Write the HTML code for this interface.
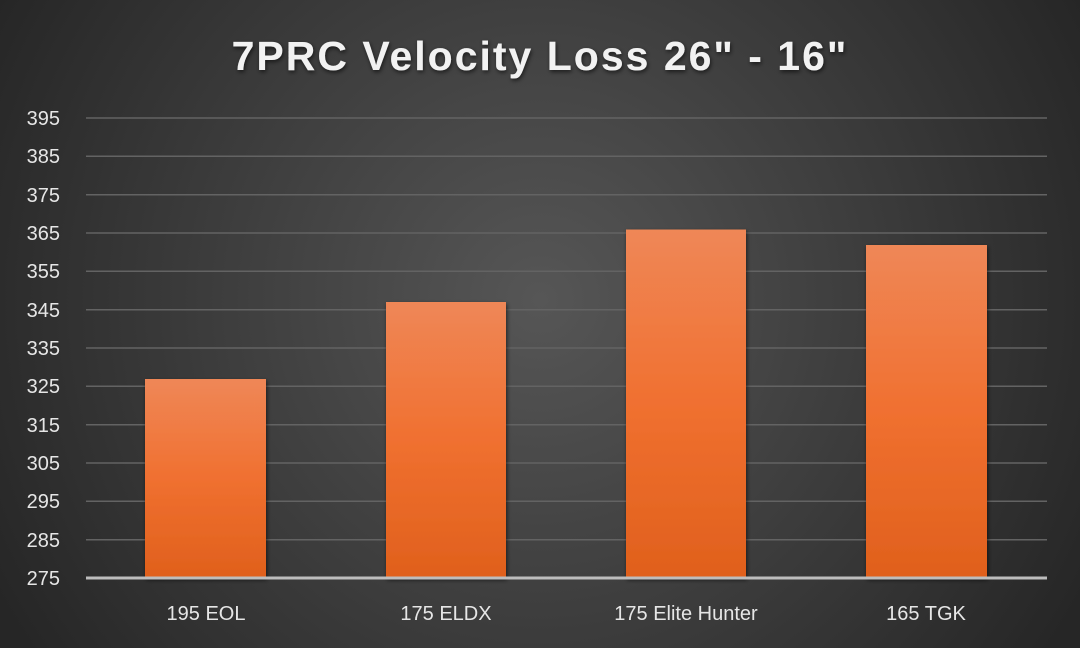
<!DOCTYPE html>
<html><head><style>
html,body{margin:0;padding:0;background:#2d2d2d}
svg{display:block}
text{font-family:"Liberation Sans",sans-serif}
</style></head><body>
<svg width="1080" height="648" viewBox="0 0 1080 648" xmlns="http://www.w3.org/2000/svg">
<defs>
<radialGradient id="bg" cx="540" cy="300" r="620" gradientUnits="userSpaceOnUse">
<stop offset="0" stop-color="#565656"/><stop offset="1" stop-color="#262626"/>
</radialGradient>
<linearGradient id="bar" x1="0" y1="0" x2="0" y2="1">
<stop offset="0" stop-color="#ef8757"/><stop offset="0.5" stop-color="#f07030"/><stop offset="1" stop-color="#e0601c"/>
</linearGradient>
<filter id="sh" x="-20%" y="-20%" width="140%" height="140%"><feDropShadow dx="1" dy="2" stdDeviation="2" flood-color="#000" flood-opacity="0.6"/></filter>
</defs>
<rect width="1080" height="648" fill="url(#bg)"/>
<text x="540" y="70" text-anchor="middle" font-size="41" font-weight="bold" fill="#f2f2f2" letter-spacing="2" filter="url(#sh)">7PRC Velocity Loss 26" - 16"</text>
<g stroke="#636363" stroke-width="1.5">
<line x1="86" x2="1047" y1="118" y2="118"/><line x1="86" x2="1047" y1="156.3" y2="156.3"/>
<line x1="86" x2="1047" y1="194.7" y2="194.7"/><line x1="86" x2="1047" y1="233" y2="233"/>
<line x1="86" x2="1047" y1="271.3" y2="271.3"/><line x1="86" x2="1047" y1="309.7" y2="309.7"/>
<line x1="86" x2="1047" y1="348" y2="348"/><line x1="86" x2="1047" y1="386.3" y2="386.3"/>
<line x1="86" x2="1047" y1="424.7" y2="424.7"/><line x1="86" x2="1047" y1="463" y2="463"/>
<line x1="86" x2="1047" y1="501.3" y2="501.3"/><line x1="86" x2="1047" y1="539.7" y2="539.7"/>
</g>
<g font-size="20" fill="#e6e6e6" text-anchor="end">
<text x="60" y="125">395</text><text x="60" y="163">385</text><text x="60" y="202">375</text>
<text x="60" y="240">365</text><text x="60" y="278">355</text><text x="60" y="317">345</text>
<text x="60" y="355">335</text><text x="60" y="393">325</text><text x="60" y="432">315</text>
<text x="60" y="470">305</text><text x="60" y="508">295</text><text x="60" y="547">285</text>
<text x="60" y="585">275</text>
</g>
<g fill="url(#bar)" filter="url(#sh)">
<rect x="145" y="379" width="121" height="199"/>
<rect x="386" y="302" width="120" height="276"/>
<rect x="626" y="229.5" width="120" height="348.5"/>
<rect x="866" y="245" width="121" height="333"/>
</g>
<line x1="86" x2="1047" y1="578" y2="578" stroke="#bdbdbd" stroke-width="3"/>
<g font-size="20" fill="#e6e6e6" text-anchor="middle">
<text x="206" y="620">195 EOL</text><text x="446" y="620">175 ELDX</text>
<text x="686" y="620">175 Elite Hunter</text><text x="926" y="620">165 TGK</text>
</g>
</svg>
</body></html>
